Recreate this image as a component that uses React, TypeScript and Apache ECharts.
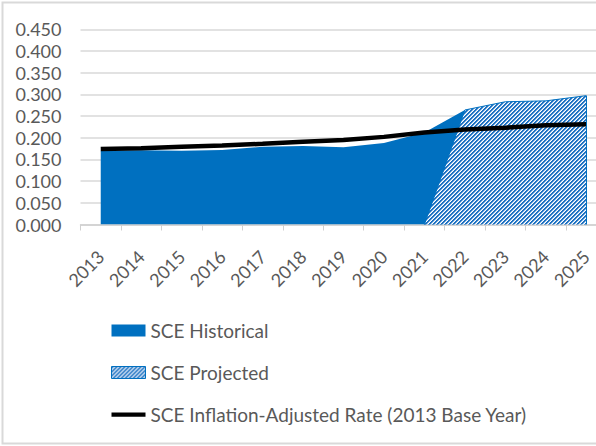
import React, { useEffect, useRef } from "react";
import * as echarts from "echarts";

const years = ["2013","2014","2015","2016","2017","2018","2019","2020","2021","2022","2023","2024","2025"];
const historical = [0.170, 0.171, 0.170, 0.172, 0.179, 0.181, 0.178, 0.188, 0.212, 0.264, null, null, null];
const projected = [null, null, null, null, null, null, null, null, 0, 0.264, 0.283, 0.285, 0.297];
const inflationAdjusted = [0.174, 0.176, 0.179, 0.182, 0.186, 0.191, 0.195, 0.202, 0.212, 0.219, 0.223, 0.229, 0.231];

const BLUE = "#0070C0";
const FONT = "Lato";

function makeHatch() {
  const P = 4;
  const c = document.createElement("canvas");
  c.width = P;
  c.height = P;
  const ctx = c.getContext("2d")!;
  const img = ctx.createImageData(P, P);
  for (let y = 0; y < P; y++) {
    for (let x = 0; x < P; x++) {
      const i = (y * P + x) * 4;
      const k = (x + y) % P;
      // two stripe pixels, one soft edge pixel, one white pixel
      const col = k < 2 ? [0x1f, 0x72, 0xc2] : k === 2 ? [0xa8, 0xc8, 0xea] : [255, 255, 255];
      img.data[i] = col[0];
      img.data[i + 1] = col[1];
      img.data[i + 2] = col[2];
      img.data[i + 3] = 255;
    }
  }
  ctx.putImageData(img, 0, 0);
  return { image: c.toDataURL(), repeat: "repeat", imageWidth: P, imageHeight: P } as any;
}

export default function App() {
  const ref = useRef<HTMLDivElement>(null);
  useEffect(() => {
    const chart = echarts.init(ref.current!, null, { renderer: "svg" });
    const hatch = makeHatch();
    chart.setOption({
      animation: false,
      backgroundColor: "#ffffff",
      grid: { left: 80.5, top: 29.3, width: 526, height: 195.2, containLabel: false, outerBoundsMode: "none" },
      xAxis: {
        type: "category",
        data: years,
        boundaryGap: true,
        axisLine: { lineStyle: { color: "#d0d0d0", width: 1.5 } },
        axisTick: { show: true, length: 6, interval: 0, lineStyle: { color: "#d0d0d0" } },
        axisLabel: { rotate: 45, interval: 0, margin: 29, fontFamily: FONT, fontSize: 18, color: "#595959" },
        splitLine: { show: false },
      },
      yAxis: {
        type: "value",
        min: 0,
        max: 0.45,
        interval: 0.05,
        axisLine: { show: false },
        axisTick: { show: false },
        axisLabel: { margin: 19, fontFamily: FONT, fontSize: 18, color: "#595959", formatter: (v: number) => v.toFixed(3) },
        splitLine: { lineStyle: { color: "#d9d9d9", width: 1.5 } },
      },
      legend: {
        orient: "vertical",
        left: 106,
        top: 316,
        itemWidth: 34,
        itemHeight: 12,
        itemGap: 23,
        textStyle: { fontFamily: FONT, fontSize: 19, color: "#595959" },
        data: [
          { name: "SCE Historical", icon: "rect", itemStyle: { color: BLUE, borderWidth: 0 } },
          { name: "SCE Projected", icon: "rect", itemStyle: { color: hatch, borderColor: BLUE, borderWidth: 1 } },
          { name: "SCE Inflation-Adjusted Rate (2013 Base Year)", icon: "path://M0,0 L40,0 L40,5 L0,5 Z", itemStyle: { color: "#000000", borderWidth: 0 } },
        ],
      },
      series: [
        {
          name: "SCE Historical",
          type: "line",
          data: historical,
          symbol: "none",
          itemStyle: { color: BLUE },
          lineStyle: { width: 0, color: BLUE },
          areaStyle: { color: BLUE, opacity: 1 },
          z: 2,
        },
        {
          name: "SCE Projected",
          type: "line",
          data: projected,
          symbol: "none",
          itemStyle: { color: BLUE },
          lineStyle: { width: 1, color: BLUE },
          areaStyle: { color: hatch, opacity: 1 },
          markLine: {
            silent: true,
            symbol: "none",
            label: { show: false },
            lineStyle: { color: BLUE, width: 1, type: "solid" },
            data: [[{ coord: ["2025", 0] }, { coord: ["2025", projected[12]] }]],
          },
          z: 3,
        },
        {
          name: "SCE Inflation-Adjusted Rate (2013 Base Year)",
          type: "line",
          data: inflationAdjusted,
          symbol: "none",
          itemStyle: { color: "#000000" },
          lineStyle: { width: 4.5, color: "#000000" },
          z: 4,
        },
      ],
      graphic: [
        {
          type: "rect",
          shape: { x: 2.5, y: 2.5, width: 640, height: 441 },
          style: { fill: "none", stroke: "#d9d9d9", lineWidth: 2 },
          silent: true,
          z: 100,
        },
      ],
    });
    return () => chart.dispose();
  }, []);
  return (
    <div
      ref={ref}
      style={{ position: "fixed", left: 0, top: 0, width: 596, height: 446 }}
    />
  );
}
